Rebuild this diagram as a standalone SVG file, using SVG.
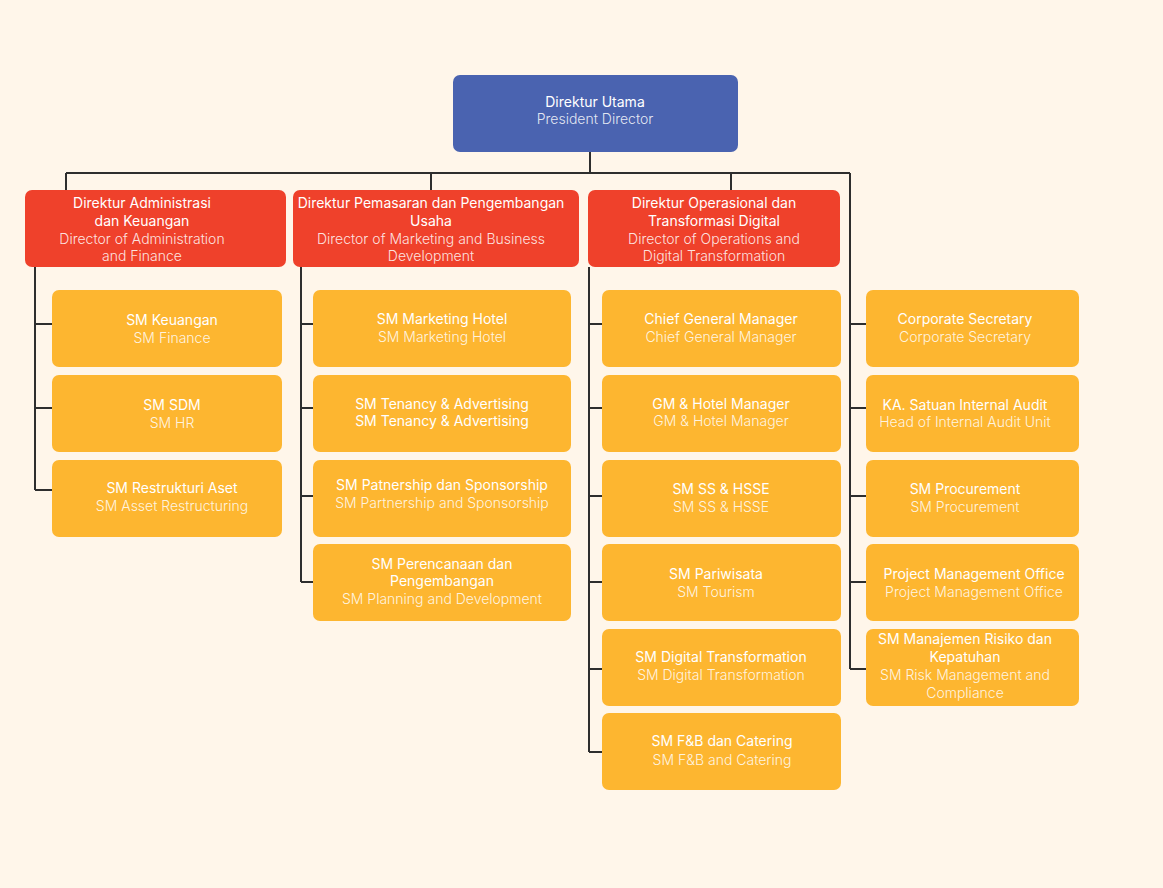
<svg xmlns="http://www.w3.org/2000/svg" width="1163" height="888" viewBox="0 0 1163 888">
<style>
.bg{fill:#FFF6EA}
.top{fill:#4A63B0}
.dir{fill:#EF412B}
.sm{fill:#FDB630}
text{font-family:Inter,"Liberation Sans",Arial,sans-serif;font-size:14px;text-anchor:middle}
.t{fill:#FFFFFF;font-weight:400}
.s{fill:#FFFFFF;fill-opacity:0.86;font-weight:300}
.c{fill:none;stroke:#2E2E2E;stroke-width:2}
</style>
<rect class="bg" x="0" y="0" width="1163" height="888"/>
<g id="connectors">
<path class="c" d="M590 152V173M66 173H850M66 173V190M431 173V190M731 173V190"/>
<path class="c" d="M35 267V490M35 324H52M35 408H52M35 490H52"/>
<path class="c" d="M301 267V582M301 324H313M301 408H313M301 496H313M301 582H313"/>
<path class="c" d="M589 267V752M589 324H602M589 408H602M589 496H602M589 582H602M589 669H602M589 752H602"/>
<path class="c" d="M850 173V669M850 324H866M850 408H866M850 496H866M850 582H866M850 669H866"/>
</g>
<g id="president">
<rect class="top" x="453" y="75" width="285" height="77" rx="7"/>
<text class="t" x="595" y="107">Direktur Utama</text>
<text class="s" x="595" y="124">President Director</text>
</g>
<g id="dir-admin">
<rect class="dir" x="25" y="190" width="261" height="77" rx="7"/>
<text class="t" x="142" y="208">Direktur Administrasi</text>
<text class="t" x="142" y="226">dan Keuangan</text>
<text class="s" x="142" y="244">Director of Administration</text>
<text class="s" x="142" y="261">and Finance</text>
</g>
<g id="dir-marketing">
<rect class="dir" x="293" y="190" width="286" height="77" rx="7"/>
<text class="t" x="431" y="208">Direktur Pemasaran dan Pengembangan</text>
<text class="t" x="431" y="226">Usaha</text>
<text class="s" x="431" y="244">Director of Marketing and Business</text>
<text class="s" x="431" y="261">Development</text>
</g>
<g id="dir-ops">
<rect class="dir" x="588" y="190" width="252" height="77" rx="7"/>
<text class="t" x="714" y="208">Direktur Operasional dan</text>
<text class="t" x="714" y="226">Transformasi Digital</text>
<text class="s" x="714" y="244">Director of Operations and</text>
<text class="s" x="714" y="261">Digital Transformation</text>
</g>
<g id="sm-keuangan">
<rect class="sm" x="52" y="290" width="230" height="77" rx="7"/>
<text class="t" x="172" y="325">SM Keuangan</text>
<text class="s" x="172" y="343">SM Finance</text>
</g>
<g id="sm-sdm">
<rect class="sm" x="52" y="375" width="230" height="77" rx="7"/>
<text class="t" x="172" y="410">SM SDM</text>
<text class="s" x="172" y="428">SM HR</text>
</g>
<g id="sm-aset">
<rect class="sm" x="52" y="460" width="230" height="77" rx="7"/>
<text class="t" x="172" y="493">SM Restrukturi Aset</text>
<text class="s" x="172" y="511">SM Asset Restructuring</text>
</g>
<g id="sm-marketing-hotel">
<rect class="sm" x="313" y="290" width="258" height="77" rx="7"/>
<text class="t" x="442" y="324">SM Marketing Hotel</text>
<text class="s" x="442" y="342">SM Marketing Hotel</text>
</g>
<g id="sm-tenancy">
<rect class="sm" x="313" y="375" width="258" height="77" rx="7"/>
<text class="t" x="442" y="409">SM Tenancy &amp; Advertising</text>
<text class="t" x="442" y="426">SM Tenancy &amp; Advertising</text>
</g>
<g id="sm-partnership">
<rect class="sm" x="313" y="460" width="258" height="77" rx="7"/>
<text class="t" x="442" y="490">SM Patnership dan Sponsorship</text>
<text class="s" x="442" y="508">SM Partnership and Sponsorship</text>
</g>
<g id="sm-perencanaan">
<rect class="sm" x="313" y="544" width="258" height="77" rx="7"/>
<text class="t" x="442" y="569">SM Perencanaan dan</text>
<text class="t" x="442" y="586">Pengembangan</text>
<text class="s" x="442" y="604">SM Planning and Development</text>
</g>
<g id="chief-gm">
<rect class="sm" x="602" y="290" width="239" height="77" rx="7"/>
<text class="t" x="721" y="324">Chief General Manager</text>
<text class="s" x="721" y="342">Chief General Manager</text>
</g>
<g id="gm-hotel">
<rect class="sm" x="602" y="375" width="239" height="77" rx="7"/>
<text class="t" x="721" y="409">GM &amp; Hotel Manager</text>
<text class="s" x="721" y="426">GM &amp; Hotel Manager</text>
</g>
<g id="sm-hsse">
<rect class="sm" x="602" y="460" width="239" height="77" rx="7"/>
<text class="t" x="721" y="494">SM SS &amp; HSSE</text>
<text class="s" x="721" y="512">SM SS &amp; HSSE</text>
</g>
<g id="sm-pariwisata">
<rect class="sm" x="602" y="544" width="239" height="77" rx="7"/>
<text class="t" x="716" y="579">SM Pariwisata</text>
<text class="s" x="716" y="597">SM Tourism</text>
</g>
<g id="sm-digital">
<rect class="sm" x="602" y="629" width="239" height="77" rx="7"/>
<text class="t" x="721" y="662">SM Digital Transformation</text>
<text class="s" x="721" y="680">SM Digital Transformation</text>
</g>
<g id="sm-fnb">
<rect class="sm" x="602" y="713" width="239" height="77" rx="7"/>
<text class="t" x="722" y="746">SM F&amp;B dan Catering</text>
<text class="s" x="722" y="765">SM F&amp;B and Catering</text>
</g>
<g id="corp-sec">
<rect class="sm" x="866" y="290" width="213" height="77" rx="7"/>
<text class="t" x="965" y="324">Corporate Secretary</text>
<text class="s" x="965" y="342">Corporate Secretary</text>
</g>
<g id="internal-audit">
<rect class="sm" x="866" y="375" width="213" height="77" rx="7"/>
<text class="t" x="965" y="410">KA. Satuan Internal Audit</text>
<text class="s" x="965" y="427">Head of Internal Audit Unit</text>
</g>
<g id="procurement">
<rect class="sm" x="866" y="460" width="213" height="77" rx="7"/>
<text class="t" x="965" y="494">SM Procurement</text>
<text class="s" x="965" y="512">SM Procurement</text>
</g>
<g id="pmo">
<rect class="sm" x="866" y="544" width="213" height="77" rx="7"/>
<text class="t" x="974" y="579">Project Management Office</text>
<text class="s" x="974" y="597">Project Management Office</text>
</g>
<g id="sm-risiko">
<rect class="sm" x="866" y="629" width="213" height="77" rx="7"/>
<text class="t" x="965" y="644">SM Manajemen Risiko dan</text>
<text class="t" x="965" y="662">Kepatuhan</text>
<text class="s" x="965" y="680">SM Risk Management and</text>
<text class="s" x="965" y="698">Compliance</text>
</g>
</svg>
